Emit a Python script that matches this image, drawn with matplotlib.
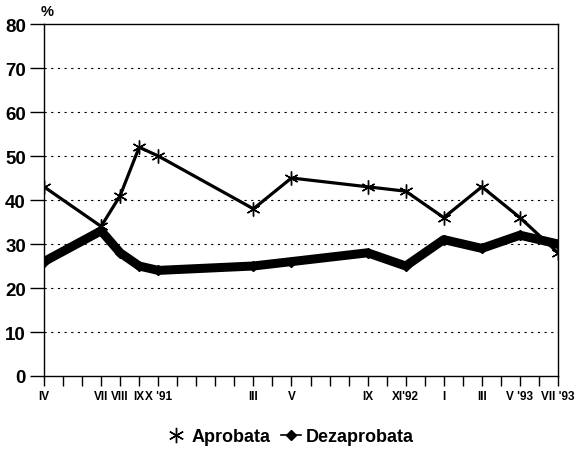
import matplotlib
matplotlib.use("Agg")
import matplotlib.pyplot as plt
from matplotlib.lines import Line2D

plt.rcParams['font.family'] = ['Liberation Sans', 'DejaVu Sans']

# Monthly axis: IV '91 ... VII '93 (28 months)
n_months = 28
month_idx = [0, 3, 4, 5, 6, 11, 13, 17, 19, 21, 23, 25, 27]
tick_labels = ["IV", "VII", "VIII", "IX", "X '91", "III", "V", "IX", "XI'92",
               "I", "III", "V '93", "VII '93"]
aprobata = [43, 34, 41, 52, 50, 38, 45, 43, 42, 36, 43, 36, 28]
dezaprobata = [26, 33, 28, 25, 24, 25, 26, 28, 25, 31, 29, 32, 30]

fig = plt.figure(figsize=(5.79, 4.52), dpi=100)
ax = fig.add_axes([44/579, 1 - 377/452, (558-44)/579, (377-25)/452])

ax.plot(month_idx, dezaprobata, color='black', lw=6.5, marker='D', ms=5,
        solid_joinstyle='round', solid_capstyle='round', zorder=3)
ax.plot(month_idx, aprobata, color='black', lw=2.3, marker=(6, 2, 0), ms=10,
        mew=1.0, zorder=4)

ax.set_xlim(0, n_months - 1)
ax.set_ylim(0, 80)
ax.set_yticks(range(0, 81, 10))
ax.set_yticklabels([str(v) for v in range(0, 81, 10)], fontsize=13.5, fontweight='bold')
ax.set_xticks(range(n_months))
lab = [''] * n_months
for i, t in zip(month_idx, tick_labels):
    lab[i] = t
ax.set_xticklabels(lab, fontsize=8.5, fontweight='bold')
ax.tick_params(axis='x', length=7, width=1, pad=3)
ax.tick_params(axis='y', length=10, width=1, pad=3)

for v in range(10, 80, 10):
    ax.axhline(v, color='black', lw=0.8, ls=(0, (2, 4)), zorder=1)

for s in ax.spines.values():
    s.set_linewidth(1)
    s.set_color('black')

fig.text(47/579, 1 - 12/452, '%', fontsize=10.5, fontweight='bold', ha='center', va='center')

handles = [Line2D([], [], color='black', lw=0, marker=(6, 2, 0), ms=11, mew=1.0),
           Line2D([], [], color='black', lw=1.2, marker='D', ms=5)]
fig.legend(handles, ['Aprobata', 'Dezaprobata'], loc='center', bbox_to_anchor=(290/579, 1 - 438/452),
           ncol=2, frameon=False, prop={'size': 13, 'weight': 'bold'},
           handlelength=1.1, handletextpad=0.3, columnspacing=0.6)

fig.savefig('out.png', dpi=100)
